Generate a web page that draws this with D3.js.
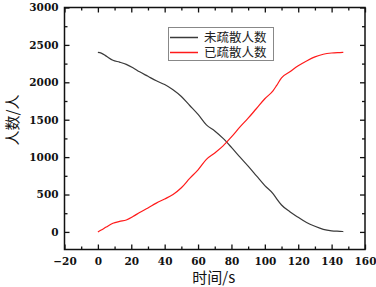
<!DOCTYPE html>
<html><head><meta charset="utf-8">
<script src="https://cdn.jsdelivr.net/npm/d3@7"></script>
<style>body{margin:0;background:#fff}svg{display:block}
text.tk{font-family:"DejaVu Serif",serif !important;font-weight:bold !important;font-size:10.5px !important}
.cj{font-family:"Noto Sans CJK SC","Noto Sans",sans-serif}
</style>
</head><body>
<script>
const time = [0,2,5,9,13,17,21,25,30,35,40,45,50,55,60,65,70,75,80,85,90,95,100,105,107,110,115,120,125,130,135,140,145,147];
const notEvacuated = [2400,2390,2350,2295,2270,2240,2195,2140,2080,2020,1970,1900,1810,1690,1570,1430,1350,1250,1130,1003,880,750,620,510,445,360,270,195,125,75,35,15,8,5];
const evacuated = [0,25,65,115,140,160,205,260,320,385,440,500,590,715,830,970,1055,1150,1270,1400,1520,1650,1780,1890,1955,2060,2140,2220,2285,2340,2375,2392,2398,2400];
const seriesNames = ["未疏散人数","已疏散人数"];
const xTicks = [-20,0,20,40,60,80,100,120,140,160];
const yTicks = [0,500,1000,1500,2000,2500,3000];
const xLabel = "时间/s", yLabel = "人数/人";

const W=376,H=287;
const svg=d3.select("body").append("svg").attr("width",W).attr("height",H);
const L=64.5,R=365,T=7.5,B=249.5;
const x=d3.scaleLinear().domain([-20,160]).range([L,R]);
const y=d3.scaleLinear().domain([-235,3000]).range([B,T]);

const xMinor=d3.range(-20,161,10), yMinor=d3.range(0,3001,250);
const fmt=d=>d<0?"\u2212"+Math.abs(d):String(d);
svg.append("g").attr("transform",`translate(0,${B})`)
  .call(d3.axisBottom(x).tickValues(xTicks).tickSize(-5).tickPadding(8).tickFormat(fmt));
svg.append("g").attr("transform",`translate(0,${B})`).call(d3.axisBottom(x).tickValues(xMinor.filter(v=>!xTicks.includes(v))).tickSize(-3).tickFormat(""));
svg.append("g").attr("transform",`translate(0,${T})`).call(d3.axisTop(x).tickValues(xTicks).tickSize(-5).tickFormat(""));
svg.append("g").attr("transform",`translate(0,${T})`).call(d3.axisTop(x).tickValues(xMinor.filter(v=>!xTicks.includes(v))).tickSize(-3).tickFormat(""));
svg.append("g").attr("transform",`translate(${L},0)`)
  .call(d3.axisLeft(y).tickValues(yTicks).tickSize(-5).tickPadding(6).tickFormat(fmt));
svg.append("g").attr("transform",`translate(${L},0)`).call(d3.axisLeft(y).tickValues(yMinor.filter(v=>!yTicks.includes(v))).tickSize(-3).tickFormat(""));
svg.append("g").attr("transform",`translate(${R},0)`).call(d3.axisRight(y).tickValues(yTicks).tickSize(-5).tickFormat(""));
svg.append("g").attr("transform",`translate(${R},0)`).call(d3.axisRight(y).tickValues(yMinor.filter(v=>!yTicks.includes(v))).tickSize(-3).tickFormat(""));

svg.selectAll(".domain").remove();
svg.selectAll(".tick line").attr("stroke","#111").attr("stroke-width",1.3);
svg.selectAll("g").attr("font-family",null).attr("font-size",null);
svg.selectAll(".tick text").attr("class","tk").attr("fill","#111");

svg.append("rect").attr("x",L).attr("y",T).attr("width",R-L).attr("height",B-T)
  .attr("fill","none").attr("stroke","#111").attr("stroke-width",1.5);

const line=(vals)=>d3.line().x((d,i)=>x(time[i])).y(d=>y(d)).curve(d3.curveMonotoneX)(vals);
svg.append("path").attr("d",line(notEvacuated)).attr("fill","none").attr("stroke","#3a3a3a").attr("stroke-width",1.2);
svg.append("path").attr("d",line(evacuated)).attr("fill","none").attr("stroke","#ff1a1a").attr("stroke-width",1.2);

const lg=svg.append("g");
lg.append("rect").attr("x",168.5).attr("y",27.5).attr("width",105).attr("height",33).attr("fill","#fff").attr("stroke","#888").attr("stroke-width",1);
const colors=["#3a3a3a","#ff1a1a"];
seriesNames.forEach((n,i)=>{
  const cy=37.5+i*15;
  lg.append("line").attr("x1",170).attr("x2",198).attr("y1",cy).attr("y2",cy).attr("stroke",colors[i]).attr("stroke-width",1.5);
  lg.append("text").attr("class","cj").attr("x",204).attr("y",cy).attr("dy","0.36em").style("font-size","12.5px").attr("fill","#222").text(n);
});

svg.append("text").attr("class","cj").attr("x",(L+R)/2-1).attr("y",278).attr("dy","0.36em").attr("text-anchor","middle").style("font-size","15px").attr("fill","#111").text(xLabel);
svg.append("text").attr("class","cj").attr("transform",`translate(13,120) rotate(-90)`).attr("dy","0.36em").attr("text-anchor","middle").style("font-size","15px").attr("fill","#111").text(yLabel);
</script>
</body></html>
